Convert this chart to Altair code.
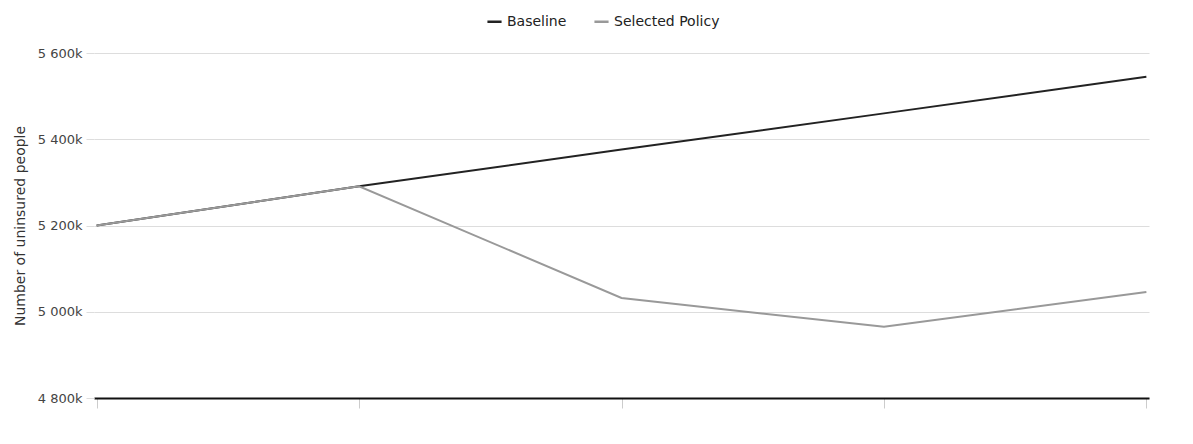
import altair as alt
import pandas as pd

years = ["2024", "2025", "2026", "2027", "2028"]
baseline = [5200, 5291, 5376, 5460, 5545]          # thousands
selected_policy = [5200, 5291, 5032, 4965, 5046]   # thousands
series_names = ["Baseline", "Selected Policy"]
series_colors = ["#222222", "#999999"]
y_ticks = [4800, 5000, 5200, 5400, 5600]

rows = []
for i, yr in enumerate(years):
    rows.append({"year": yr, "series": "Baseline", "value": baseline[i] * 1000, "order": 0})
    rows.append({"year": yr, "series": "Selected Policy", "value": selected_policy[i] * 1000, "order": 1})
df = pd.DataFrame(rows)

FONT = "DejaVu Sans"

chart = alt.Chart(df).mark_line(strokeWidth=2).encode(
    x=alt.X("year:O", title=None,
            scale=alt.Scale(type="point", padding=0.01),
            axis=alt.Axis(labels=False, ticks=True, tickColor="#cccccc", tickSize=10,
                          domainColor="#111111", domainWidth=2, grid=False)),
    y=alt.Y("value:Q", title="Number of uninsured people",
            scale=alt.Scale(domain=[4800000, 5600000], nice=False, zero=False),
            axis=alt.Axis(values=[v * 1000 for v in y_ticks],
                          labelExpr="replace(format(datum.value / 1000, ',d'), ',', ' ') + 'k'",
                          domain=False, tickColor="#dddddd", tickSize=8,
                          gridColor="#dddddd", labelColor="#444444", labelFontSize=13,
                          titleColor="#333333", titleFontSize=14, titleFontWeight="normal",
                          labelPadding=4, titlePadding=10)),
    color=alt.Color("series:N",
                    scale=alt.Scale(domain=series_names, range=series_colors),
                    legend=alt.Legend(title=None, orient="none", direction="horizontal",
                                      legendX=392, legendY=-40, symbolType="stroke",
                                      symbolStrokeWidth=2.5, symbolSize=200,
                                      labelFontSize=14, labelColor="#222222",
                                      columnPadding=22)),
    order=alt.Order("order:Q"),
).properties(
    width=1055, height=345
).configure(
    font=FONT
).configure_view(
    stroke=None
)

chart.save("out.html", embed_options={"renderer": "svg", "actions": False})
